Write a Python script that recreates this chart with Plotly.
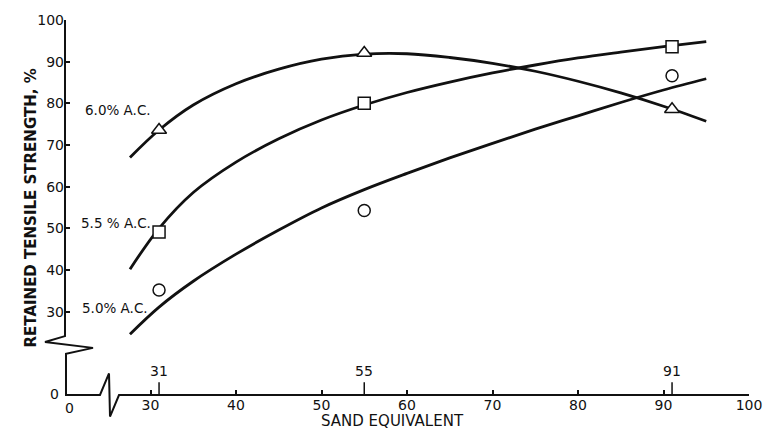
import plotly.graph_objects as go

# ---------------- data ----------------
sand_eq = [31, 55, 91]
pts_60 = [73.6, 92.1, 78.6]   # triangles, 6.0 % A.C.
pts_55 = [49.1, 80.0, 93.6]   # squares, 5.5 % A.C.
pts_50 = [35.2, 54.3, 86.6]   # circles, 5.0 % A.C.

curve_x = [27.6, 31, 35, 40, 45, 50, 55, 60, 65, 70, 75, 80, 85, 90, 95]
curve_60 = [67.0, 73.6, 79.6, 84.7, 88.2, 90.6, 91.8, 91.9, 91.0, 89.6, 87.7, 85.3, 82.5, 79.3, 75.7]
curve_55 = [40.2, 50.0, 58.6, 65.9, 71.5, 76.0, 79.6, 82.6, 85.1, 87.3, 89.2, 90.9, 92.3, 93.6, 94.8]
curve_50 = [24.6, 31.1, 37.3, 43.8, 49.6, 54.9, 59.3, 63.2, 66.9, 70.4, 73.8, 77.0, 80.2, 83.2, 85.9]

series_labels = ["6.0% A.C.", "5.5 % A.C.", "5.0% A.C."]
label_pos = [(26.2, 78.3), (26.0, 51.2), (25.85, 31.0)]

x_tickvals = [20, 30, 40, 50, 60, 70, 80, 90, 100]
x_ticktext = ["0", "30", "40", "50", "60", "70", "80", "90", "100"]
y_tickvals = [10, 30, 40, 50, 60, 70, 80, 90, 100]
y_ticktext = ["0", "30", "40", "50", "60", "70", "80", "90", "100"]
special_x = [31, 55, 91]
special_text = ["31", "55", "91"]

# ---------------- layout geometry ----------------
W, H = 780, 446
ML, MR, MT, MB = 65, 31, 13, 51
PW, PH = W - ML - MR, H - MT - MB

def px(x):
    return (x - ML) / PW

def py(y):
    return (H - MB - y) / PH

FONT = "DejaVu Sans"
BLACK = "#111111"

fig = go.Figure()

for cy in (curve_60, curve_55, curve_50):
    fig.add_trace(go.Scatter(x=curve_x, y=cy, mode="lines",
                             line=dict(color=BLACK, width=2.8, shape="spline", smoothing=1.0),
                             hoverinfo="skip", showlegend=False))

for ys, sym, sz in ((pts_60, "triangle-up", 13), (pts_55, "square", 12), (pts_50, "circle", 12)):
    fig.add_trace(go.Scatter(x=sand_eq, y=ys, mode="markers",
                             marker=dict(symbol=sym, size=sz,
                                         color="white", line=dict(color=BLACK, width=1.5)),
                             showlegend=False))

# axis lines with breaks (decoration, pixel geometry)
y_axis_pts = [(65, 13), (65, 335), (45, 341), (93, 347), (66, 353), (66, 395)]
x_axis_pts = [(65, 395), (100, 395), (109, 373), (110, 417), (119, 395), (749, 395)]
for pts in (y_axis_pts, x_axis_pts):
    path = "M " + " L ".join(f"{px(a):.5f},{py(b):.5f}" for a, b in pts)
    fig.add_shape(type="path", path=path, xref="paper", yref="paper",
                  line=dict(color=BLACK, width=2))

# special longer ticks with labels above axis
for sx, st in zip(special_x, special_text):
    fig.add_shape(type="line", xref="x", yref="paper", x0=sx, x1=sx, y0=0, y1=13 / PH,
                  line=dict(color=BLACK, width=1.5))
    fig.add_annotation(x=sx, y=14 / PH, xref="x", yref="paper", text=st, showarrow=False,
                       yanchor="bottom", font=dict(family=FONT, size=14, color=BLACK))

for (lx, ly), lt in zip(label_pos, series_labels):
    fig.add_annotation(x=lx, y=ly, xref="x", yref="y", text=lt, showarrow=False,
                       font=dict(family=FONT, size=13.5, color=BLACK))

# corner "0" labels of the broken axes
fig.add_annotation(x=px(61), y=py(394), xref="paper", yref="paper", text=y_ticktext[0],
                   showarrow=False, xanchor="right", yanchor="middle",
                   font=dict(family=FONT, size=14, color=BLACK))
fig.add_annotation(x=x_tickvals[0], y=py(408), xref="x", yref="paper", text=x_ticktext[0],
                   showarrow=False, xanchor="left", yanchor="middle", xshift=-2,
                   font=dict(family=FONT, size=14, color=BLACK))

fig.add_annotation(x=px(20), y=py(205), xref="paper", yref="paper", textangle=-90,
                   text="<b>RETAINED TENSILE STRENGTH, %</b>", showarrow=False,
                   font=dict(family=FONT, size=15, color=BLACK))
fig.add_annotation(x=px(392), y=py(433), xref="paper", yref="paper",
                   text="SAND EQUIVALENT", showarrow=False,
                   font=dict(family=FONT, size=15, color=BLACK))

fig.update_layout(
    width=W, height=H,
    margin=dict(l=ML, r=MR, t=MT, b=MB),
    paper_bgcolor="white", plot_bgcolor="white",
    showlegend=False,
    xaxis=dict(range=[20, 100], tickvals=x_tickvals, ticktext=[""] + x_ticktext[1:],
               ticks="inside", ticklen=5, tickwidth=1.5, tickcolor=BLACK,
               showgrid=False, zeroline=False, showline=False,
               tickfont=dict(family=FONT, size=14, color=BLACK)),
    yaxis=dict(range=[10, 100], tickvals=y_tickvals, ticktext=[""] + y_ticktext[1:],
               ticks="inside", ticklen=5, tickwidth=1.5, tickcolor=BLACK,
               showgrid=False, zeroline=False, showline=False,
               tickfont=dict(family=FONT, size=14, color=BLACK)),
)

fig.write_html("out.html")
